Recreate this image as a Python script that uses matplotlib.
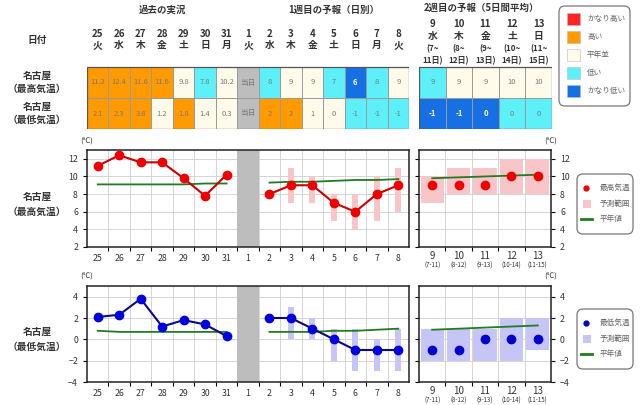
import numpy as np
import matplotlib
matplotlib.use('Agg')
import matplotlib.pyplot as plt
from matplotlib.patches import Rectangle, FancyBboxPatch
import matplotlib.transforms as mtrans

plt.rcParams['font.family'] = ['Noto Sans CJK JP', 'DejaVu Sans']

W, H = 640, 405
nan = np.nan

# ---- data ----
past_days = ['25', '26', '27', '28', '29', '30', '31']
past_wd = ['火', '水', '木', '金', '土', '日', '月']
today_day, today_wd = '1', '火'
wk1_days = ['2', '3', '4', '5', '6', '7', '8']
wk1_wd = ['水', '木', '金', '土', '日', '月', '火']
wk2_days = ['9', '10', '11', '12', '13']
wk2_wd = ['水', '木', '金', '土', '日']
wk2_from = ['7', '8', '9', '10', '11']
wk2_to = ['11', '12', '13', '14', '15']

past_max = [11.2, 12.4, 11.6, 11.6, 9.8, 7.8, 10.2]
past_min = [2.1, 2.3, 3.8, 1.2, 1.8, 1.4, 0.3]
past_max_norm = [9.1, 9.1, 9.1, 9.1, 9.1, 9.2, 9.2]
past_min_norm = [0.8, 0.7, 0.7, 0.7, 0.7, 0.7, 0.7]
past_max_cls = ['H', 'H', 'H', 'H', 'N', 'L', 'N']
past_min_cls = ['H', 'H', 'H', 'N', 'H', 'N', 'N']

wk1_max = [8, 9, 9, 7, 6, 8, 9]
wk1_max_lo = [nan, 7, 7, 5, 4, 5, 6]
wk1_max_hi = [nan, 11, 10, 8, 8, 10, 11]
wk1_max_norm = [9.3, 9.4, 9.4, 9.5, 9.6, 9.6, 9.7]
wk1_max_cls = ['L', 'N', 'N', 'L', 'VL', 'L', 'N']
wk1_min = [2, 2, 1, 0, -1, -1, -1]
wk1_min_lo = [nan, 0, 0, -2, -3, -3, -3]
wk1_min_hi = [nan, 3, 2, 1, 1, 0, 1]
wk1_min_norm = [0.7, 0.7, 0.7, 0.8, 0.8, 0.9, 1.0]
wk1_min_cls = ['H', 'H', 'N', 'N', 'L', 'L', 'L']

wk2_max = [9, 9, 9, 10, 10]
wk2_max_lo = [7, 8, 8, 8, 8]
wk2_max_hi = [10, 11, 11, 12, 12]
wk2_max_norm = [9.8, 9.9, 10.0, 10.1, 10.2]
wk2_max_cls = ['L', 'N', 'N', 'N', 'N']
wk2_min = [-1, -1, 0, 0, 0]
wk2_min_lo = [-2, -2, -2, -2, -1]
wk2_min_hi = [1, 1, 1, 2, 2]
wk2_min_norm = [0.9, 1.0, 1.1, 1.2, 1.3]
wk2_min_cls = ['VL', 'VL', 'VL', 'L', 'L']

cls_keys = ['VH', 'H', 'N', 'L', 'VL']
cls_labels = ['かなり高い', '高い', '平年並', '低い', 'かなり低い']
cls_colors = {'VH': '#ff2424', 'H': '#ff9a00', 'N': '#fffbeb',
              'L': '#5ef0f8', 'VL': '#1670e4'}
today_color = '#bdbdbd'
TXT = '#333333'


fig = plt.figure(figsize=(W / 100, H / 100), dpi=100)


def px_axes(l, t, r, b):
    return fig.add_axes([l / W, 1 - b / H, (r - l) / W, (b - t) / H])


def fig_text(x, y, s, **kw):
    fig.text(x / W, 1 - y / H, s, **kw)


# ---- table (past + today + week1) ----
main_days = past_days + [today_day] + wk1_days
main_wd = past_wd + [today_wd] + wk1_wd
row_max = [f'{v:.1f}' for v in past_max] + ['当日'] + [str(v) for v in wk1_max]
row_min = [f'{v:.1f}' for v in past_min] + ['当日'] + [str(v) for v in wk1_min]
cls_max = past_max_cls + ['T'] + wk1_max_cls
cls_min = past_min_cls + ['T'] + wk1_min_cls


def draw_cells(ax, labels, classes, y0, h):
    for i, (s, c) in enumerate(zip(labels, classes)):
        fc = today_color if c == 'T' else cls_colors[c]
        ax.add_patch(Rectangle((i - 0.5, y0), 1, h, fc=fc, ec='#9a9a9a', lw=0.7))
        if c == 'VL':
            ax.text(i, y0 + h / 2, s, ha='center', va='center', fontsize=5.5,
                    color='white', fontweight='bold')
        else:
            ax.text(i, y0 + h / 2, s, ha='center', va='center', fontsize=5.5,
                    color='#7a7a7a')


tab = px_axes(87, 0, 409, 129)
tab.set_xlim(-0.5, 14.5)
tab.set_ylim(129, 0)
tab.axis('off')
draw_cells(tab, row_max, cls_max, 67, 31)
draw_cells(tab, row_min, cls_min, 98, 31)
tab.add_patch(Rectangle((-0.5, 67), 15, 62, fc='none', ec='#555555', lw=0.9))
for i, (d, w) in enumerate(zip(main_days, main_wd)):
    tab.text(i, 34, d, ha='center', va='center', fontsize=7, fontweight='bold', color=TXT)
    tab.text(i, 45, w, ha='center', va='center', fontsize=7, fontweight='bold', color=TXT)
tab.text(3, 10, '過去の実況', ha='center', va='center', fontsize=6.8,
         fontweight='bold', color=TXT)
tab.text(11, 10, '1週目の予報（日別）', ha='center', va='center', fontsize=6.8,
         fontweight='bold', color=TXT)

tab2 = px_axes(419, 0, 552, 129)
tab2.set_xlim(-0.5, 4.5)
tab2.set_ylim(129, 0)
tab2.axis('off')
draw_cells(tab2, [str(v) for v in wk2_max], wk2_max_cls, 67, 31)
draw_cells(tab2, [str(v) for v in wk2_min], wk2_min_cls, 98, 31)
tab2.add_patch(Rectangle((-0.5, 67), 5, 62, fc='none', ec='#555555', lw=0.9))
for i in range(5):
    tab2.text(i, 24, wk2_days[i], ha='center', va='center', fontsize=7, fontweight='bold', color=TXT)
    tab2.text(i, 36, wk2_wd[i], ha='center', va='center', fontsize=7, fontweight='bold', color=TXT)
    tab2.text(i, 49, f'({wk2_from[i]}~', ha='center', va='center', fontsize=5.8,
              fontweight='bold', color=TXT)
    tab2.text(i, 61, f'{wk2_to[i]}日)', ha='center', va='center', fontsize=5.8,
              fontweight='bold', color=TXT)
tab2.text(1.85, 8, '2週目の予報（5日間平均）', ha='center', va='center', fontsize=6.8,
          fontweight='bold', color=TXT)

fig_text(37, 40, '日付', ha='center', va='center', fontsize=7, fontweight='bold', color=TXT)
fig_text(37, 82, '名古屋\n（最高気温）', ha='center', va='center', fontsize=7,
         fontweight='bold', color=TXT, linespacing=1.35)
fig_text(37, 113, '名古屋\n（最低気温）', ha='center', va='center', fontsize=7,
         fontweight='bold', color=TXT, linespacing=1.35)
fig_text(37, 204, '名古屋\n（最高気温）', ha='center', va='center', fontsize=7,
         fontweight='bold', color=TXT, linespacing=1.6)
fig_text(37, 339, '名古屋\n（最低気温）', ha='center', va='center', fontsize=7,
         fontweight='bold', color=TXT, linespacing=1.6)


# ---- charts ----
def style_axes(ax, n, ylim, right=False):
    ax.set_xlim(-0.5, n - 0.5)
    ax.set_ylim(*ylim)
    ax.set_xticks(np.arange(n - 1) + 0.5, minor=True)
    ax.set_yticks(np.arange(ylim[0], ylim[1] + 0.01, 2))
    ax.grid(True, which='minor', axis='x', color='#cfcfcf', lw=0.6)
    ax.grid(True, which='major', axis='y', color='#cfcfcf', lw=0.6)
    ax.set_axisbelow(True)
    ax.tick_params(axis='x', which='major', length=0, labelsize=6.3, labelcolor=TXT, pad=5)
    ax.tick_params(axis='x', which='minor', length=3, width=0.8, direction='out')
    ax.tick_params(axis='y', length=3, width=0.8, labelsize=6.3, labelcolor=TXT,
                   left=True, right=right, labelleft=not right, labelright=right)
    for sp in ax.spines.values():
        sp.set_color('#222222')
        sp.set_linewidth(1.1)


def main_chart(ax, past, norm_p, wk1, lo, hi, norm_w, ylim, line_c, mark_c, band_c):
    style_axes(ax, 15, ylim)
    ax.set_xticks(range(15))
    ax.set_xticklabels(main_days)
    ax.axvspan(6.5, 7.5, color=today_color, lw=0, zorder=1)
    xp = np.arange(7)
    xw = np.arange(8, 15)
    lo = np.array(lo, float)
    hi = np.array(hi, float)
    ax.bar(xw, hi - lo, bottom=lo, width=0.28, color=band_c, lw=0, zorder=2)
    ax.plot(xp, norm_p, color='#237a23', lw=1.3, zorder=3)
    ax.plot(xw, norm_w, color='#237a23', lw=1.3, zorder=3)
    for x, y in ((xp, past), (xw, wk1)):
        ax.plot(x, y, color=line_c, lw=1.5, zorder=4)
        ax.plot(x, y, 'o', ms=6, color=mark_c, mec=mark_c, zorder=5)


def wk2_chart(ax, vals, lo, hi, norm, ylim, mark_c, band_c):
    style_axes(ax, 5, ylim, right=True)
    ax.set_xticks(range(5))
    ax.set_xticklabels(wk2_days, fontsize=7)
    ax.tick_params(axis='x', which='major', pad=3)
    lo = np.array(lo, float)
    hi = np.array(hi, float)
    x = np.arange(5)
    ax.bar(x, hi - lo, bottom=lo, width=0.88, color=band_c, lw=0, zorder=2)
    ax.plot(x, norm, color='#237a23', lw=1.3, zorder=3)
    ax.plot(x, vals, 'o', ms=6, color=mark_c, mec=mark_c, zorder=5)
    trans = mtrans.blended_transform_factory(ax.transData, ax.transAxes)
    for i in range(5):
        ax.text(i, -0.19, f'({wk2_from[i]}-{wk2_to[i]})', transform=trans,
                ha='center', va='center', fontsize=4.4, color=TXT)


axmax = px_axes(87, 150, 409, 247)
main_chart(axmax, past_max, past_max_norm, wk1_max, wk1_max_lo, wk1_max_hi,
           wk1_max_norm, (2, 13), '#c80000', '#ee0000', '#f8c6c8')
axmax2 = px_axes(419, 150, 551, 247)
wk2_chart(axmax2, wk2_max, wk2_max_lo, wk2_max_hi, wk2_max_norm, (2, 13),
          '#ee0000', '#f8c6c8')

axmin = px_axes(87, 286, 409, 382)
main_chart(axmin, past_min, past_min_norm, wk1_min, wk1_min_lo, wk1_min_hi,
           wk1_min_norm, (-4, 5), '#0a0a80', '#0000dd', '#c6c6f6')
axmin2 = px_axes(419, 286, 551, 382)
wk2_chart(axmin2, wk2_min, wk2_min_lo, wk2_min_hi, wk2_min_norm, (-4, 5),
          '#0000cc', '#c6c6f6')

for x, y in ((87, 142), (551, 142), (87, 277), (551, 277)):
    fig_text(x, y, '(℃)', ha='center', va='center', fontsize=5.5, color=TXT)


# ---- legends ----
def legend_axes(l, t, r, b):
    ax = px_axes(l, t, r, b)
    ax.set_xlim(0, r - l)
    ax.set_ylim(b - t, 0)
    ax.axis('off')
    ax.add_patch(FancyBboxPatch((1, 1), r - l - 2, b - t - 2,
                                boxstyle='round,pad=0,rounding_size=6',
                                fc='white', ec='#777777', lw=0.9))
    return ax


lg = legend_axes(558, 5, 631, 107)
for i, (k, lab) in enumerate(zip(cls_keys, cls_labels)):
    yc = 14 + 18 * i
    lg.add_patch(Rectangle((9, yc - 6), 13, 12, fc=cls_colors[k], ec='#bbbbbb', lw=0.4))
    lg.text(29, yc, lab, ha='left', va='center', fontsize=5.5, color='#666666')


def chart_legend(l, t, name, mark_c, band_c):
    ax = legend_axes(l, t, l + 58, t + 62)
    ax.plot([10], [15], 'o', ms=3.5, color=mark_c)
    ax.add_patch(Rectangle((6.5, 26.5), 8, 8, fc=band_c, lw=0))
    ax.plot([5, 16], [46, 46], color='#237a23', lw=2)
    ax.text(24, 15, name, ha='left', va='center', fontsize=5.5, color='#666666')
    ax.text(24, 30.5, '予測範囲', ha='left', va='center', fontsize=5.5, color='#666666')
    ax.text(24, 46, '平年値', ha='left', va='center', fontsize=5.5, color='#666666')


chart_legend(576, 173, '最高気温', '#ee0000', '#f8c6c8')
chart_legend(576, 308, '最低気温', '#0000cc', '#c6c6f6')

fig.savefig('out.png', dpi=100)
